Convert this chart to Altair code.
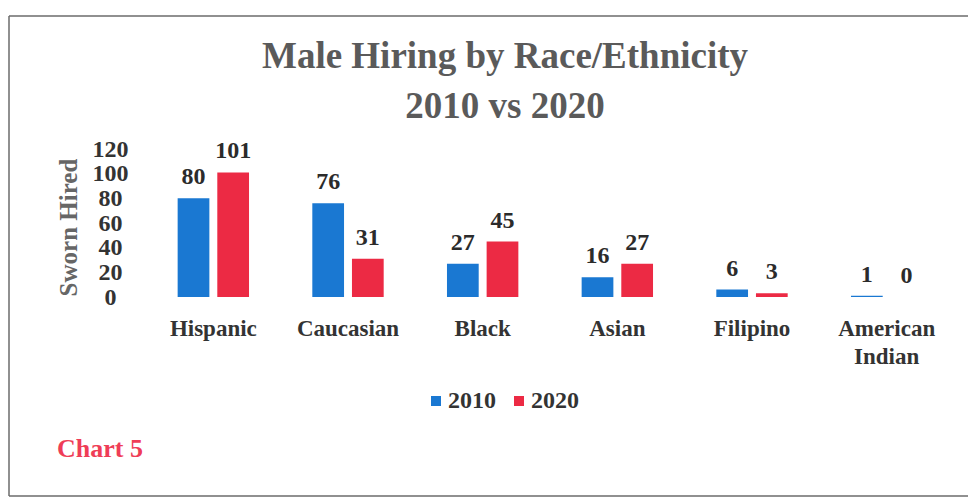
import altair as alt
import pandas as pd

categories = ["Hispanic", "Caucasian", "Black", "Asian", "Filipino", "American Indian"]
hired_2010 = [80, 76, 27, 16, 6, 1]
hired_2020 = [101, 31, 45, 27, 3, 0]
years = ["2010", "2020"]
colors = ["#1a78d2", "#ec2a44"]
y_ticks = [0, 20, 40, 60, 80, 100, 120]
title_lines = ["Male Hiring by Race/Ethnicity", "2010 vs 2020"]

rows = []
for c, a, b in zip(categories, hired_2010, hired_2020):
    rows.append({"cat": c, "year": years[0], "value": a})
    rows.append({"cat": c, "year": years[1], "value": b})
df = pd.DataFrame(rows)
dummy = pd.DataFrame({"d": [0]})

FONT = "Liberation Serif"

x_enc = alt.X(
    "cat:N", sort=categories,
    scale=alt.Scale(paddingInner=0.47, paddingOuter=0.235),
    axis=alt.Axis(
        title=None, labelAngle=0, domain=False, ticks=False, labelPadding=20,
        labelFont=FONT, labelFontSize=23, labelFontWeight="bold", labelColor="#333333",
        labelLineHeight=28, labelOverlap=False,
        labelExpr="datum.label == 'American Indian' ? ['American', 'Indian'] : datum.label",
    ),
)
xoff = alt.XOffset("year:N", sort=years, scale=alt.Scale(paddingInner=0.2))
y_enc = alt.Y(
    "value:Q",
    scale=alt.Scale(domain=[0, 120], nice=False),
    axis=alt.Axis(
        values=y_ticks, grid=False, domain=False, ticks=False,
        labelAlign="center", labelPadding=36, labelFont=FONT, labelFontSize=24,
        labelFontWeight="bold", labelColor="#333333",
        title="Sworn Hired", titleFont=FONT, titleFontSize=25, titleFontWeight="bold",
        titleColor="#666666", titleX=-78, titleY=78, titleAngle=270,
        titleAlign="center", titleBaseline="middle",
    ),
)

base = alt.Chart(df).encode(x=x_enc, xOffset=xoff, y=y_enc)

bars = base.mark_bar().encode(
    color=alt.Color(
        "year:N", sort=years,
        scale=alt.Scale(domain=years, range=colors),
        legend=alt.Legend(
            title=None, orient="none", legendX=278, legendY=240, direction="horizontal",
            symbolType="square", symbolSize=100, symbolStrokeWidth=0, symbolOpacity=1,
            labelFont=FONT, labelFontSize=24, labelFontWeight="bold", labelColor="#333333",
            columnPadding=11, labelOffset=0, padding=0,
        ),
    )
)

labels = base.mark_text(
    dy=-14, baseline="alphabetic", font=FONT, fontSize=24, fontWeight="bold", color="#2b2b2b"
).encode(text=alt.Text("value:Q"))

frame_color = "#6b6b6b"
top_line = alt.Chart(dummy).mark_rule(color=frame_color, strokeWidth=1.5).encode(
    x=alt.value(-137), x2=alt.value(830), y=alt.value(-133))
left_line = alt.Chart(dummy).mark_rule(color=frame_color, strokeWidth=1.5).encode(
    x=alt.value(-137), y=alt.value(-133), y2=alt.value(347))
bottom_line = alt.Chart(dummy).mark_rule(color=frame_color, strokeWidth=1.5).encode(
    x=alt.value(-137), x2=alt.value(830), y=alt.value(347))

title1 = alt.Chart(dummy).mark_text(
    text=title_lines[0], align="center", baseline="alphabetic", font=FONT, fontSize=37,
    fontWeight="bold", color="#5a5a5a"
).encode(x=alt.value(359), y=alt.value(-81))
title2 = alt.Chart(dummy).mark_text(
    text=title_lines[1], align="center", baseline="alphabetic", font=FONT, fontSize=37,
    fontWeight="bold", color="#5a5a5a"
).encode(x=alt.value(359), y=alt.value(-31))

chart5 = alt.Chart(dummy).mark_text(
    text="Chart 5", align="left", baseline="middle", font=FONT, fontSize=26,
    fontWeight="bold", color="#ef3d57"
).encode(x=alt.value(-89), y=alt.value(300))

chart = alt.layer(bars, labels, top_line, left_line, bottom_line, title1, title2, chart5).properties(
    width=808, height=148,
    autosize=alt.AutoSizeParams(type="none"),
    padding={"left": 138, "top": 141, "right": 14, "bottom": 205},
    background="white",
).configure_view(strokeWidth=0, stroke="transparent")

chart.save("out.html", embed_options={"renderer": "svg", "actions": False})
